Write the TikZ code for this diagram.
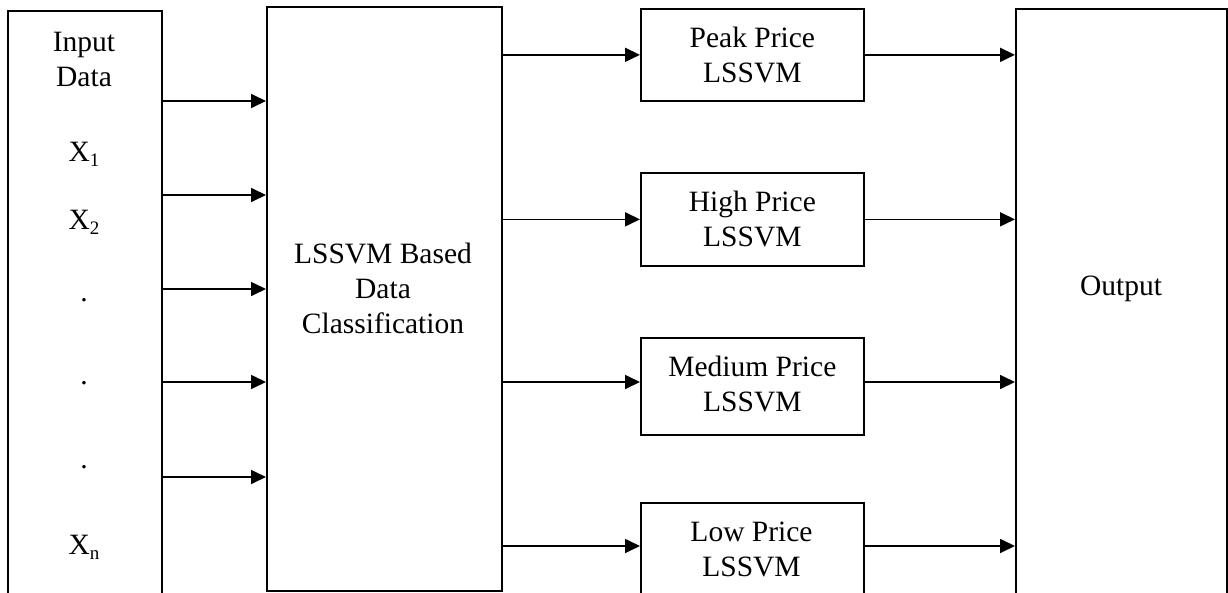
\documentclass[tikz,border=0pt]{standalone}
\usepackage{fontspec}
\setmainfont{Liberation Serif}
\usetikzlibrary{arrows.meta}
\newcommand\Xsub[1]{X\raisebox{-0.35ex}{\fontsize{19}{19}\selectfont #1}}
\tikzset{
  blk/.style={draw, line width=1.7pt, rectangle, inner sep=0pt, anchor=north west},
  lbl/.style={inner sep=0pt, align=center, font=\fontsize{29.5}{35}\selectfont},
  arr/.style={line width=1.7pt, -{Triangle[length=15pt,width=14pt]}}
}
\begin{document}
\begin{tikzpicture}[x=1pt,y=-1pt]
\clip (0,0) rectangle (1228,592);
\fill[white] (0,0) rectangle (1228,592);
% boxes
\node[blk, minimum width=154pt, minimum height=600pt] (inp) at (7,10) {};
\node[blk, minimum width=235pt, minimum height=584pt] (cls) at (266,6) {};
\node[blk, minimum width=223pt, minimum height=92pt] (peak) at (640,8) {};
\node[blk, minimum width=223pt, minimum height=93pt] (high) at (640,172) {};
\node[blk, minimum width=223pt, minimum height=97pt] (med) at (640,337) {};
\node[blk, minimum width=223pt, minimum height=100pt] (low) at (640,502) {};
\node[blk, minimum width=211pt, minimum height=600pt] (out) at (1015,8) {};
% texts
\node[lbl] (tin) at (84,59) {Input\\Data};
\node[lbl] (x1) at (84,154) {\Xsub{1}};
\node[lbl] (x2) at (84,222) {\Xsub{2}};
\node[lbl] (d1) at (84,300) {.};
\node[lbl] (d2) at (84,383) {.};
\node[lbl] (d3) at (84,467) {.};
\node[lbl] (xn) at (84,547) {\Xsub{n}};
\node[lbl] (tcls) at (383,288) {LSSVM Based\\Data\\Classification};
\node[lbl] (tpeak) at (peak.center) {Peak Price\\LSSVM};
\node[lbl] (thigh) at (high.center) {High Price\\LSSVM};
\node[lbl] (tmed) at ([yshift=2pt]med.center) {Medium Price\\LSSVM};
\node[lbl] (tlow) at (751.5,549) {Low Price\\LSSVM};
\node[lbl] (tout) at (1121,289) {Output};
% input arrows
\foreach \y in {101,195,289,382,477}
  \draw[arr] (inp.east |- 0,\y) -- (cls.west |- 0,\y);
% classification to models
\draw[arr] (cls.east |- peak.west) -- (peak.west);
\draw[arr] (cls.east |- high.west) -- (high.west);
\draw[arr] (cls.east |- 0,382) -- (med.west |- 0,382);
\draw[arr] (cls.east |- 0,546) -- (low.west |- 0,546);
% models to output
\draw[arr] (peak.east) -- (out.west |- peak.east);
\draw[arr] (high.east) -- (out.west |- high.east);
\draw[arr] (med.east |- 0,382) -- (out.west |- 0,382);
\draw[arr] (low.east |- 0,546) -- (out.west |- 0,546);
\end{tikzpicture}
\end{document}
